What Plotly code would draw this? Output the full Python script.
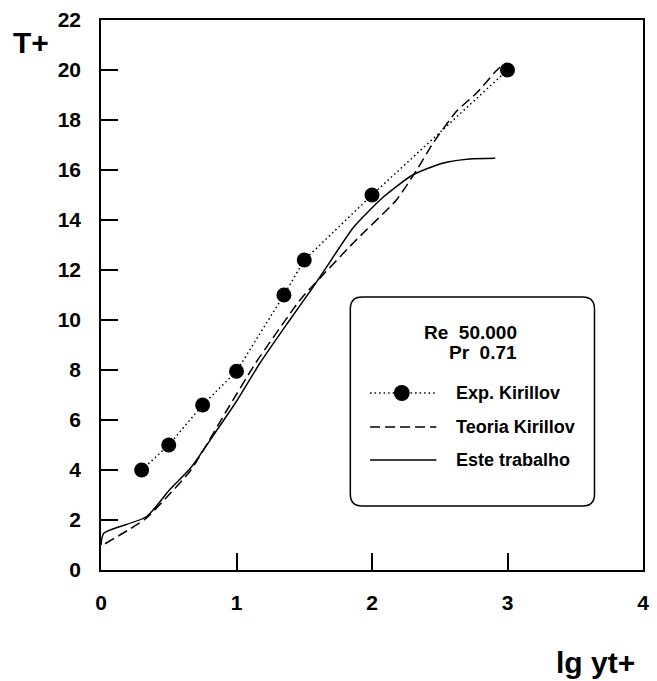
import plotly.graph_objects as go

# Data
exp_x = [0.3, 0.5, 0.75, 1.0, 1.35, 1.5, 2.0, 3.0]
exp_y = [4.0, 5.0, 6.6, 7.95, 11.0, 12.4, 15.0, 20.0]

teo_x = [0.03, 0.33, 0.5, 0.664, 0.93, 1.14, 1.45, 1.5, 1.87, 2.18, 2.33, 2.45, 2.62, 2.77, 2.91, 2.95]
teo_y = [1.05, 2.05, 3.0, 4.0, 6.4, 8.27, 10.67, 11.0, 13.13, 14.8, 16.0, 17.07, 18.33, 19.07, 19.93, 20.15]

est_x = [0.0, 0.02, 0.335, 0.505, 0.664, 0.865, 1.0, 1.17, 1.38, 1.55, 1.65, 1.867, 2.086, 2.3, 2.52, 2.72, 2.91]
est_y = [1.0, 1.47, 2.13, 3.2, 4.1, 5.67, 6.75, 8.25, 9.9, 11.2, 12.0, 13.73, 14.93, 15.8, 16.27, 16.44, 16.47]

x_ticks = [0, 1, 2, 3, 4]
y_ticks = [0, 2, 4, 6, 8, 10, 12, 14, 16, 18, 20, 22]

FONT = "Liberation Sans"

fig = go.Figure()
fig.add_trace(go.Scatter(x=est_x, y=est_y, mode="lines", name="Este trabalho",
                         line=dict(color="black", width=1.5, shape="spline", smoothing=0.6)))
fig.add_trace(go.Scatter(x=teo_x, y=teo_y, mode="lines", name="Teoria Kirillov",
                         line=dict(color="black", width=1.5, dash="10px,5px", shape="spline", smoothing=0.5)))
fig.add_trace(go.Scatter(x=exp_x, y=exp_y, mode="lines+markers", name="Exp. Kirillov",
                         line=dict(color="black", width=1.5, dash="1.5px,3px"),
                         marker=dict(color="black", size=15)))

# Legend box (manual, rounded)
x0, x1, y0, y1 = 1.840, 3.642, 2.56, 10.92
rx, ry = 12 / 137.1, 12 / 25.02
path = (f"M {x0+rx},{y1} L {x1-rx},{y1} Q {x1},{y1} {x1},{y1-ry} "
        f"L {x1},{y0+ry} Q {x1},{y0} {x1-rx},{y0} L {x0+rx},{y0} "
        f"Q {x0},{y0} {x0},{y0+ry} L {x0},{y1-ry} Q {x0},{y1} {x0+rx},{y1} Z")
shapes = [dict(type="path", path=path, xref="x", yref="y",
               line=dict(color="black", width=1.5), fillcolor="white", layer="above")]

rows_y = [7.08, 5.72, 4.4]
sx0, sx1 = 1.986, 2.475
shapes.append(dict(type="line", xref="x", yref="y", x0=sx0, x1=sx1, y0=rows_y[0], y1=rows_y[0],
                   line=dict(color="black", width=1.5, dash="1.5px,3px"), layer="above"))
cx, rcx, rcy = 2.22, 8 / 137.1, 8 / 25.02
shapes.append(dict(type="circle", xref="x", yref="y", x0=cx-rcx, x1=cx+rcx,
                   y0=rows_y[0]-rcy, y1=rows_y[0]+rcy, fillcolor="black",
                   line=dict(color="black", width=0), layer="above"))
shapes.append(dict(type="line", xref="x", yref="y", x0=sx0, x1=sx1, y0=rows_y[1], y1=rows_y[1],
                   line=dict(color="black", width=1.5, dash="10px,5px"), layer="above"))
shapes.append(dict(type="line", xref="x", yref="y", x0=sx0, x1=sx1, y0=rows_y[2], y1=rows_y[2],
                   line=dict(color="black", width=1.5), layer="above"))

lf = dict(family=FONT, size=18, color="black")
annotations = [
    dict(text="<b>Re  50.000</b>", x=2.73, y=9.52, xref="x", yref="y", showarrow=False,
         font=dict(family=FONT, size=19, color="black"), xanchor="center", yanchor="middle"),
    dict(text="<b>Pr  0.71</b>", x=2.82, y=8.72, xref="x", yref="y", showarrow=False,
         font=dict(family=FONT, size=19, color="black"), xanchor="center", yanchor="middle"),
]
for name, yy in zip(["Exp. Kirillov", "Teoria Kirillov", "Este trabalho"], rows_y):
    annotations.append(dict(text=f"<b>{name}</b>", x=2.606, y=yy, xref="x", yref="y", showarrow=False,
                            font=lf, xanchor="left", yanchor="middle"))
annotations.append(dict(text="<b>T+</b>", x=-0.129, y=0.959, xref="paper", yref="paper", showarrow=False,
                        font=dict(family=FONT, size=30, color="black"),
                        xanchor="center", yanchor="middle"))
annotations.append(dict(text="<b>lg yt+</b>", x=0.9125, y=-0.169, xref="paper", yref="paper", showarrow=False,
                        font=dict(family=FONT, size=30, color="black"),
                        xanchor="center", yanchor="middle"))

tickfont = dict(family=FONT, size=21, color="black")
fig.update_layout(
    width=657, height=681,
    margin=dict(l=101, r=8, t=20, b=111),
    paper_bgcolor="white", plot_bgcolor="white",
    showlegend=False,
    shapes=shapes, annotations=annotations,
    xaxis=dict(range=[0, 4], tickvals=x_ticks, ticktext=[f"<b>{v}</b>" for v in x_ticks],
               ticks="inside", ticklen=17, tickwidth=1.5, tickcolor="black",
               showline=True, linecolor="black", linewidth=1.5, mirror=True,
               showgrid=False, zeroline=False, tickfont=tickfont, ticklabelstandoff=13),
    yaxis=dict(range=[0, 22], tickvals=y_ticks, ticktext=[f"<b>{v}</b>" for v in y_ticks],
               ticks="inside", ticklen=17, tickwidth=1.5, tickcolor="black",
               showline=True, linecolor="black", linewidth=1.5, mirror=True,
               showgrid=False, zeroline=False, tickfont=tickfont, ticklabelstandoff=14),
)

fig.write_html("out.html")
